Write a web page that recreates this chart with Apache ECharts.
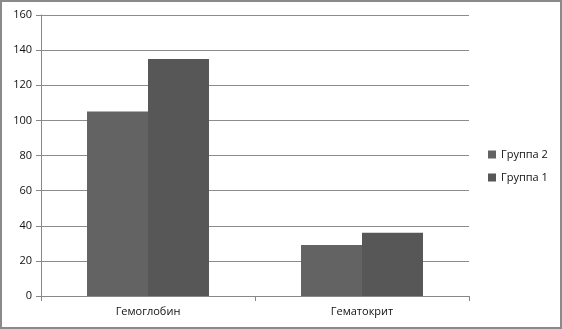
<!DOCTYPE html>
<html><head><meta charset="utf-8">
<script src="https://cdn.jsdelivr.net/npm/echarts@6/dist/echarts.min.js"></script>
<style>html,body{margin:0;padding:0;background:#fff}#c{width:562px;height:329px;box-sizing:border-box;border:2px solid #8a8a8a}</style>
</head><body><div id="c"></div>
<script>
var categories = ['Гемоглобин', 'Гематокрит'];
var group2 = [105, 29];
var group1 = [135, 36];
var yTicks = [0, 20, 40, 60, 80, 100, 120, 140, 160];

var chart = echarts.init(document.getElementById('c'), null, {renderer: 'canvas'});
var font = 'Open Sans';
chart.setOption({
  animation: false,
  textStyle: {fontFamily: font},
  grid: {left: 39, right: 91, top: 13, bottom: 31, containLabel: false},
  legend: {
    orient: 'vertical', left: 481, top: 142, itemGap: 12,
    itemWidth: 8, itemHeight: 8, icon: 'rect',
    textStyle: {fontFamily: font, fontSize: 11, color: '#111', fontWeight: 500},
    data: ['Группа 2', 'Группа 1']
  },
  xAxis: {
    type: 'category', data: categories,
    axisLine: {lineStyle: {color: '#888', width: 1}},
    axisTick: {show: true, length: 5, lineStyle: {color: '#888'}},
    axisLabel: {fontFamily: font, fontSize: 11, color: '#111', fontWeight: 500, margin: 10}
  },
  yAxis: {
    type: 'value', min: yTicks[0], max: yTicks[yTicks.length - 1], interval: 20,
    axisLine: {show: true, lineStyle: {color: '#888'}},
    axisTick: {show: true, length: 5, lineStyle: {color: '#888'}},
    axisLabel: {fontFamily: font, fontSize: 11, color: '#111', fontWeight: 500, margin: 9},
    splitLine: {lineStyle: {color: '#8c8c8c', width: 1}}
  },
  series: [
    {name: 'Группа 2', type: 'bar', data: group2, barGap: '0%', barCategoryGap: '43%',
     itemStyle: {color: '#636363'}},
    {name: 'Группа 1', type: 'bar', data: group1, barGap: '0%', barCategoryGap: '43%',
     itemStyle: {color: '#575757'}}
  ]
});
</script></body></html>
